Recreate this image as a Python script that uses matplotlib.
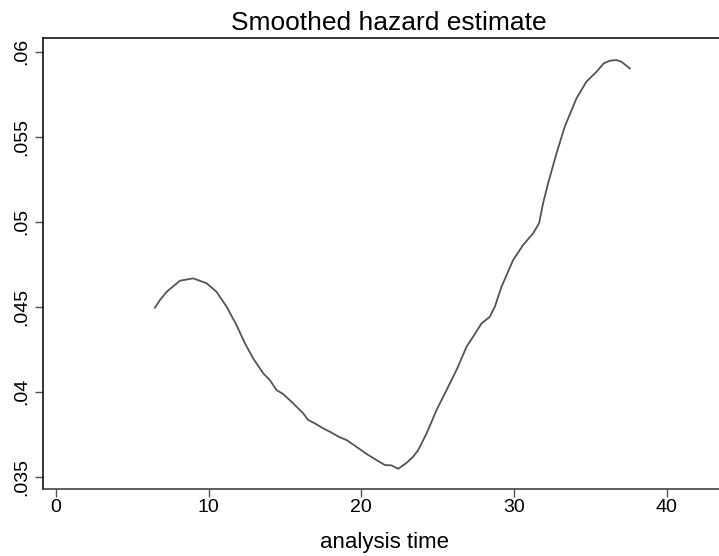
import matplotlib
matplotlib.use('Agg')
import matplotlib.pyplot as plt

# smoothed hazard curve
analysis_time = [6.48, 6.81, 7.25, 8.12, 8.99, 9.87, 10.52, 11.18, 11.83, 12.38,
                 12.92, 13.58, 14.01, 14.45, 14.89, 15.54, 16.20, 16.52, 16.96, 17.50,
                 17.94, 18.60, 19.04, 19.69, 20.35, 21.00, 21.55, 21.98, 22.42, 22.97,
                 23.40, 23.73, 24.28, 24.93, 25.59, 26.24, 26.90, 27.33, 27.88, 28.42,
                 28.75, 29.19, 29.95, 30.60, 31.26, 31.65, 31.91, 32.24, 32.79, 33.33,
                 34.10, 34.75, 35.41, 35.89, 36.28, 36.72, 37.05, 37.59]
hazard = [0.04494, 0.04539, 0.04588, 0.04653, 0.04667, 0.04638, 0.04588, 0.04500, 0.04392, 0.04285,
          0.04196, 0.04108, 0.04069, 0.04010, 0.03986, 0.03932, 0.03873, 0.03834, 0.03814, 0.03785,
          0.03765, 0.03732, 0.03716, 0.03676, 0.03634, 0.03598, 0.03569, 0.03567, 0.03547, 0.03582,
          0.03618, 0.03657, 0.03755, 0.03892, 0.04010, 0.04128, 0.04265, 0.04324, 0.04402, 0.04441,
          0.04500, 0.04618, 0.04775, 0.04863, 0.04932, 0.04991, 0.05108, 0.05226, 0.05402, 0.05559,
          0.05726, 0.05824, 0.05882, 0.05932, 0.05947, 0.05951, 0.05941, 0.05902]

x_ticks = [0, 10, 20, 30, 40]
y_ticks = [0.035, 0.04, 0.045, 0.05, 0.055, 0.06]
y_tick_labels = ['.035', '.04', '.045', '.05', '.055', '.06']

plt.rcParams['font.family'] = ['Liberation Sans', 'DejaVu Sans']

fig = plt.figure(figsize=(7.19, 5.56), dpi=100)
# plot region runs past the right edge of the picture
ax = fig.add_axes([0.0602, 0.1205, 0.973, 0.8106])

ax.plot(analysis_time, hazard, color='#555555', lw=1.3)

ax.set_xlim(-0.83, 45)
ax.set_ylim(0.03428, 0.06079)
ax.set_xticks(x_ticks)
ax.set_yticks(y_ticks)
ax.set_yticklabels(y_tick_labels, rotation=90, va='center')

ax.spines['right'].set_visible(False)
for s in ['left', 'top']:
    ax.spines[s].set_color('black')
    ax.spines[s].set_linewidth(1.1)
ax.spines['bottom'].set_color('#333333')
ax.spines['bottom'].set_linewidth(1.1)

ax.tick_params(axis='both', direction='out', length=6, width=1, color='#555555',
               labelsize=14, labelcolor='black')
ax.tick_params(axis='x', pad=1.0)
ax.tick_params(axis='y', pad=3.5)

fig.text(389 / 719, 1 - 30 / 556, 'Smoothed hazard estimate', ha='center', va='baseline',
         fontsize=19)
fig.text(385 / 719, 1 - 548 / 556, 'analysis time', ha='center', va='baseline',
         fontsize=16)

fig.savefig('out.png', dpi=100)
